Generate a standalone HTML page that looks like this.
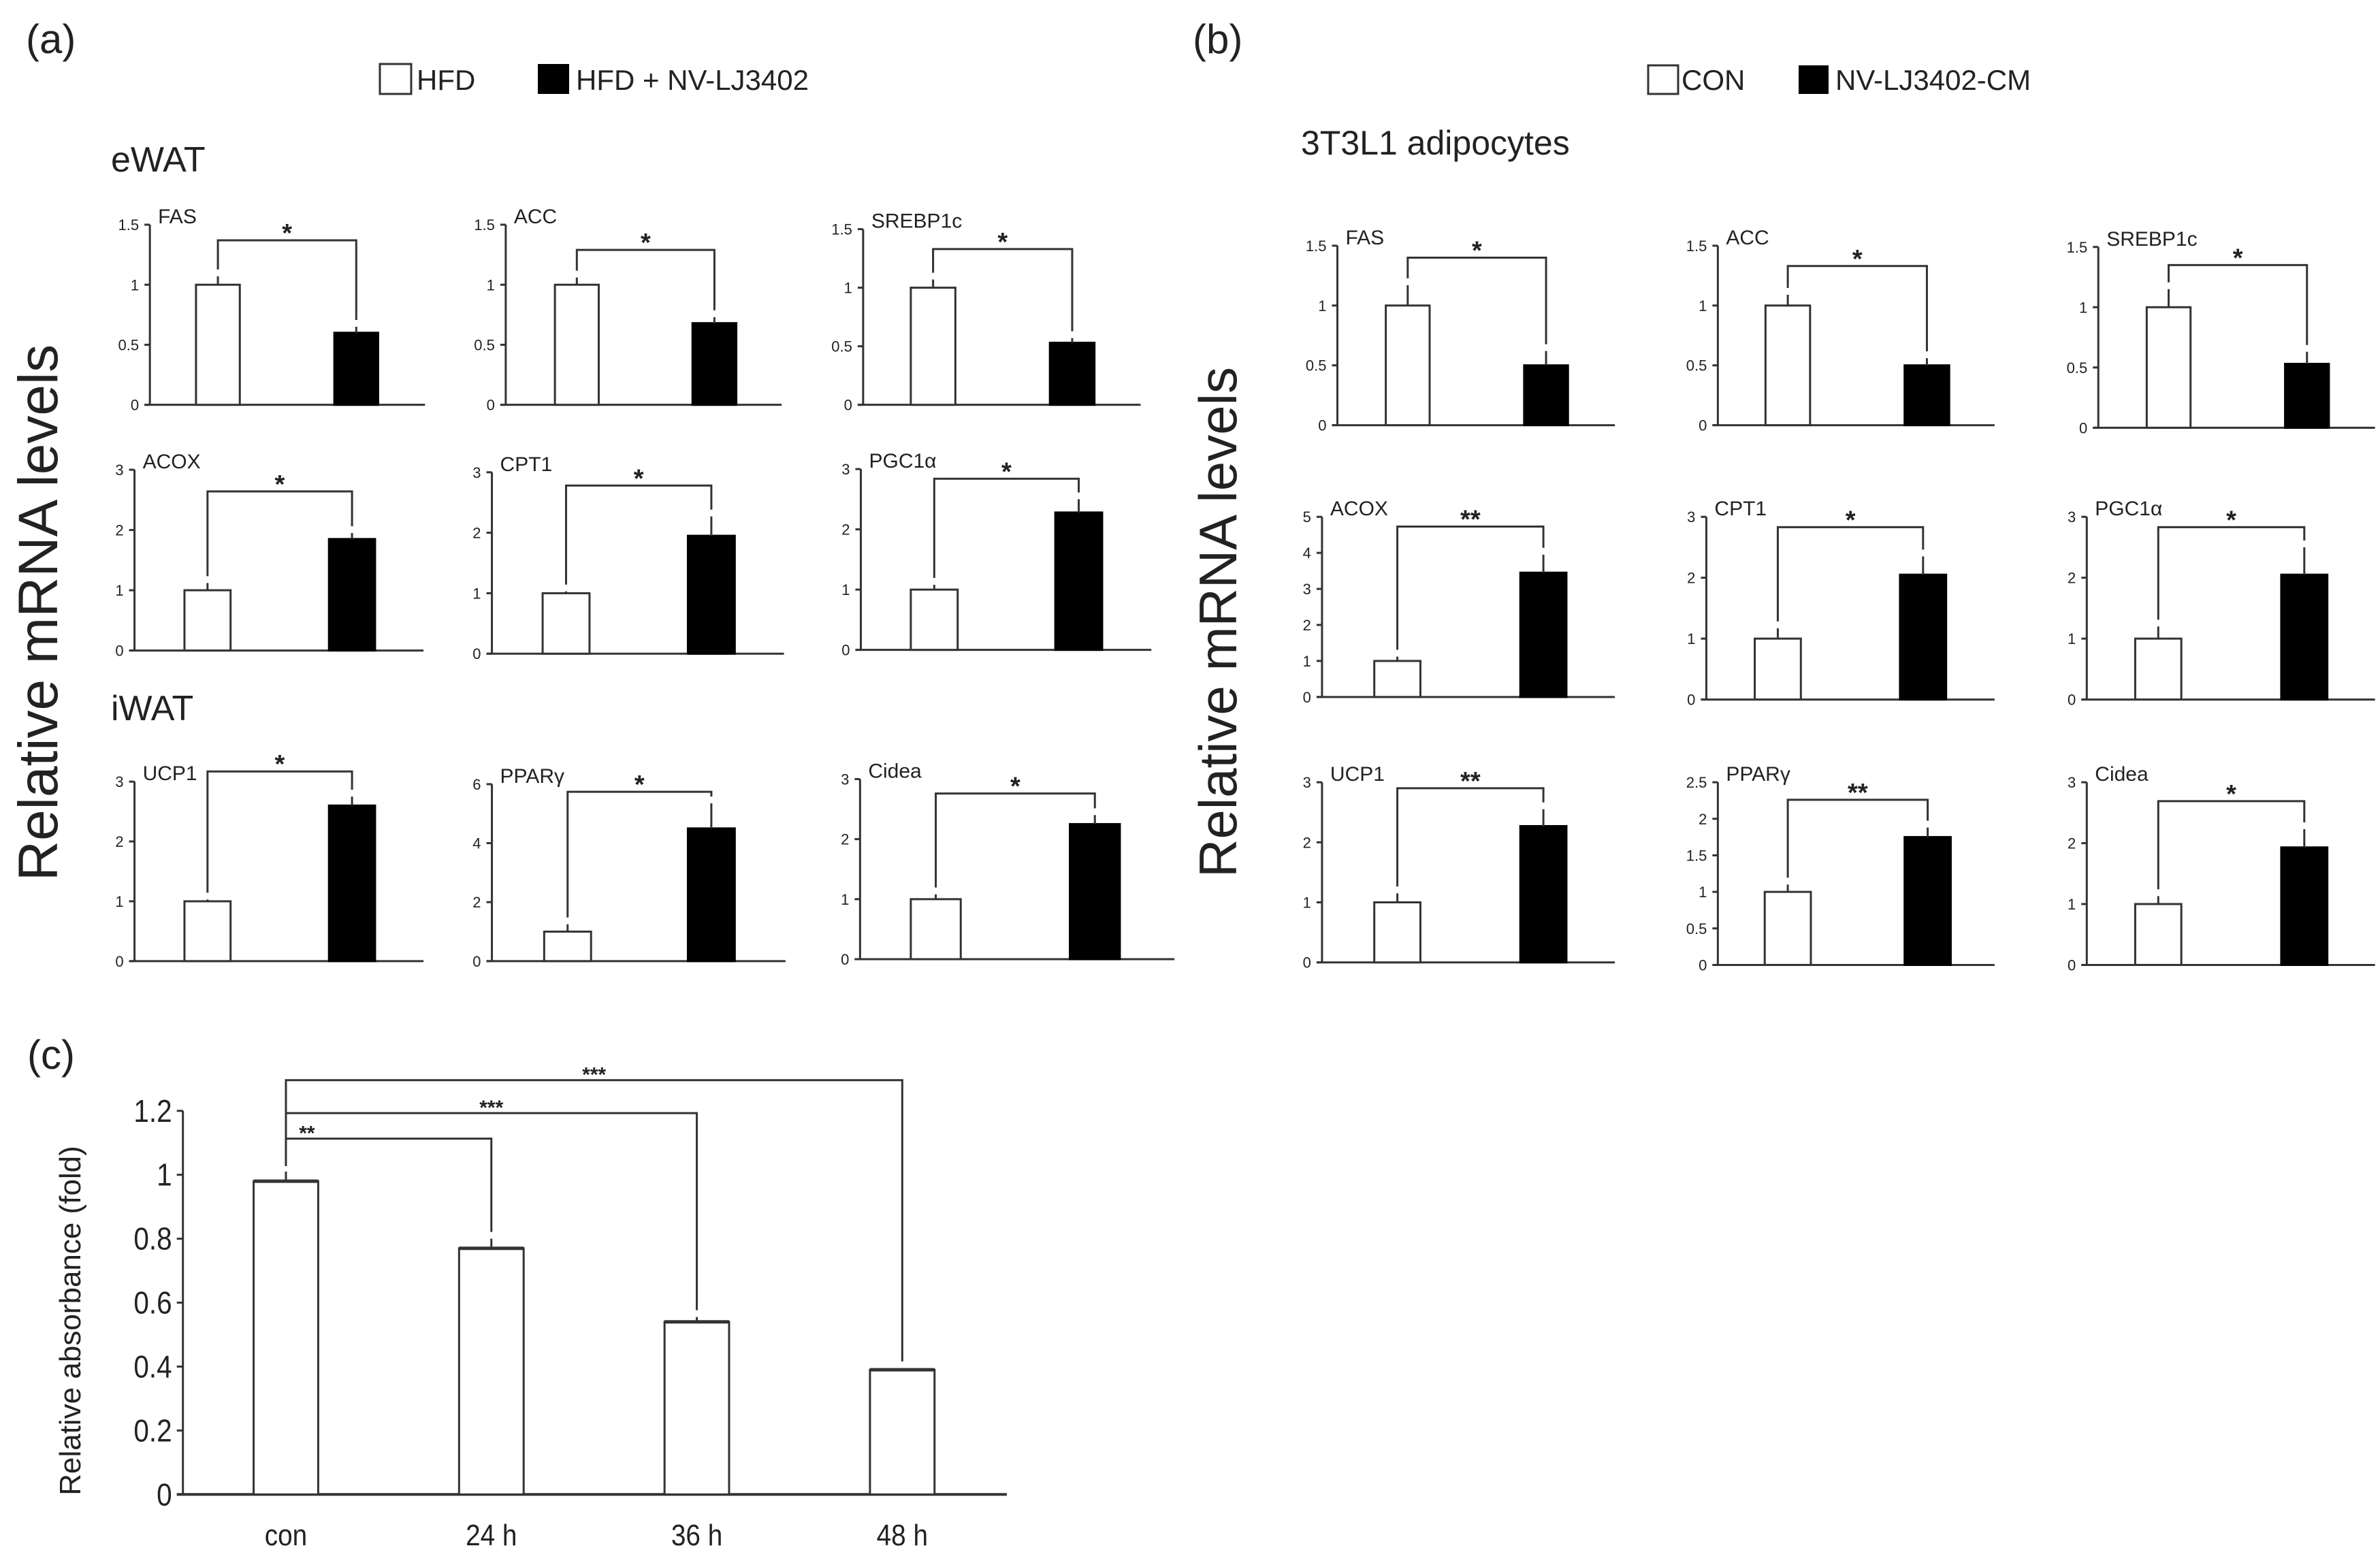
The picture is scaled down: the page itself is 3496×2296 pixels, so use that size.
<!DOCTYPE html>
<html><head><meta charset="utf-8"><style>
html,body{margin:0;padding:0;background:#fff;overflow:hidden}
svg{display:block}
text{font-family:"Liberation Sans",sans-serif;fill:#222}
</style></head><body>
<svg id="fig" width="3496" height="2296" viewBox="0 0 3496 2296" xmlns="http://www.w3.org/2000/svg">
<g id="pa">
<text x="38" y="78" font-size="60">(a)</text>
<rect x="558" y="94" width="46" height="44" fill="#fff" stroke="#333" stroke-width="3"/>
<text x="612" y="132" font-size="42">HFD</text>
<rect x="790" y="94" width="46" height="44" fill="#000"/>
<text x="846" y="132" font-size="42">HFD + NV-LJ3402</text>
<text x="163" y="252" font-size="52">eWAT</text>
<text x="163" y="1058" font-size="52">iWAT</text>
<text transform="translate(84,900) rotate(-90)" text-anchor="middle" font-size="82">Relative mRNA levels</text>
</g>
<g id="pb">
<text x="1752" y="78" font-size="60">(b)</text>
<rect x="2421" y="96" width="44" height="42" fill="#fff" stroke="#333" stroke-width="3"/>
<text x="2470" y="132" font-size="42">CON</text>
<rect x="2642" y="96" width="44" height="42" fill="#000"/>
<text x="2696" y="132" font-size="42">NV-LJ3402-CM</text>
<text x="1911" y="227" font-size="50">3T3L1 adipocytes</text>
<text transform="translate(1816,914) rotate(-90)" text-anchor="middle" font-size="78">Relative mRNA levels</text>
</g>
<g id="pc">
<text x="40" y="1570" font-size="60">(c)</text>
<text transform="translate(118,1940) rotate(-90)" text-anchor="middle" font-size="44">Relative absorbance (fold)</text>
</g>
</svg>
<script>
// ---------- panel (a) data ----------
const aGenes = ["FAS","ACC","SREBP1c","ACOX","CPT1","PGC1α","UCP1","PPARγ","Cidea"];
const aCtrl = [1,1,1,1,1,1,1,1,1];
const aTreat = [0.6,0.68,0.53,1.85,1.95,2.28,2.6,4.5,2.25];
const aCtrlErr = [0.07,0.06,0.07,0.12,0.03,0.08,0.03,0.25,0.08];
const aTreatErr = [0.05,0.05,0.04,0.1,0.32,0.22,0.15,0.85,0.15];
const aMax = [1.5,1.5,1.5,3,3,3,3,6,3];
const aStep = [0.5,0.5,0.5,1,1,1,1,2,1];
const aBracket = [1.37,1.29,1.33,2.64,2.78,2.84,3.17,5.74,2.76];
const aStars = ["*","*","*","*","*","*","*","*","*"];
// ---------- panel (b) data ----------
const bGenes = ["FAS","ACC","SREBP1c","ACOX","CPT1","PGC1α","UCP1","PPARγ","Cidea"];
const bCtrl = [1,1,1,1,1,1,1,1,1];
const bTreat = [0.5,0.5,0.53,3.45,2.05,2.05,2.27,1.75,1.93];
const bCtrlErr = [0.17,0.09,0.15,0.12,0.17,0.2,0.15,0.1,0.13];
const bTreatErr = [0.12,0.06,0.1,0.5,0.3,0.45,0.28,0.13,0.3];
const bMax = [1.5,1.5,1.5,5,3,3,3,2.5,3];
const bStep = [0.5,0.5,0.5,1,1,1,1,0.5,1];
const bBracket = [1.4,1.33,1.35,4.73,2.83,2.83,2.9,2.26,2.69];
const bStars = ["*","*","*","**","*","*","**","**","*"];
// ---------- panel (c) data ----------
const cCats = ["con","24 h","36 h","48 h"];
const cVals = [0.98,0.77,0.54,0.39];
const cErr = [0.03,0.03,0.015,0.005];
const cTicks = [0,0.2,0.4,0.6,0.8,1,1.2];
const cBrTo = [1,2,3];
const cBrY = [1.113,1.193,1.296];
const cBrStars = ["**","***","***"];

const NS="http://www.w3.org/2000/svg";
function mk(parent,tag,attrs,txt){const e=document.createElementNS(NS,tag);for(const k in attrs)e.setAttribute(k,attrs[k]);if(txt!==undefined)e.textContent=txt;parent.appendChild(e);return e;}

// layout geometry in reference-crop units: [axisX, axisEnd, topY, zeroY, ctrlBarX, treatBarX, barW]
const aLay=[[195,553,353,636,255,435,57],[658,1017,353,636,722,901,57],[1123,1484,360,636,1185,1366,58],
[175,551,738,1022,240,428,60],[640,1020,742,1027,706,895,61],[1120,1498,737,1021,1185,1373,61],
[175,551,1228,1510,240,428,60],[640,1022,1232,1510,708,895,61],[1119,1528,1224,1507,1185,1392,65]];
const bLay=[[190,551,386,668,253,433,57],[685,1045,386,668,747,928,58],[1180,1540,388,672,1243,1423,57],
[170,551,812,1095,238,428,60],[670,1045,812,1099,733,922,60],[1165,1540,812,1099,1228,1418,60],
[170,551,1229,1512,238,428,60],[685,1045,1229,1516,746,928,60],[1165,1540,1229,1516,1228,1418,60]];

function small(g,ox,lay,gene,c,t,ce,te,max,step,br,star,pfx){
  const SX=x=>ox+x*1.129, SY=y=>y*0.935;
  const x0=SX(lay[0]),x1=SX(lay[1]),yt=SY(lay[2]),y0=SY(lay[3]),wx=SX(lay[4]),bx=SX(lay[5]),bw=lay[6]*1.129;
  const sg=mk(g,'g',{});
  
  
  const Y=v=>y0-(v/max)*(y0-yt);
  const s='#333';
  mk(sg,'line',{x1:x0,y1:yt,x2:x0,y2:y0,stroke:s,'stroke-width':3});
  mk(sg,'line',{x1:x0-8,y1:y0,x2:x1,y2:y0,stroke:s,'stroke-width':3});
  for(let v=0;v<=max+1e-9;v+=step){
    const y=Y(v);
    mk(sg,'line',{x1:x0-8,y1:y,x2:x0,y2:y,stroke:s,'stroke-width':3});
    const tl=mk(sg,'text',{x:x0-16,y:y+8,'text-anchor':'end','font-size':22,fill:'#444'},String(+v.toFixed(2)));
    
    
  }
  const title=mk(sg,'text',{x:x0+12,y:yt-2,'font-size':30},gene);
  
  
  const wc=wx+bw/2, bc=bx+bw/2;
  const r1=mk(sg,'rect',{x:wx,y:Y(c),width:bw,height:y0-Y(c),fill:'#fff',stroke:s,'stroke-width':3});
  
  
  const r2=mk(sg,'rect',{x:bx,y:Y(t),width:bw,height:y0-Y(t),fill:'#000',stroke:'#000','stroke-width':3});
  
  
  mk(sg,'line',{x1:wc,y1:Y(c),x2:wc,y2:Y(c+ce),stroke:s,'stroke-width':3});
  mk(sg,'line',{x1:bc,y1:Y(t),x2:bc,y2:Y(t+te),stroke:s,'stroke-width':3});
  const by=Y(br);
  mk(sg,'polyline',{points:`${wc},${Y(c+ce)-10} ${wc},${by} ${bc},${by} ${bc},${Y(t+te)-10}`,fill:'none',stroke:s,'stroke-width':3});
  const st=mk(sg,'text',{x:(wc+bc)/2,y:by+2,'text-anchor':'middle','font-size':38,'font-weight':'bold'},star);
  
  
}
const pa=document.getElementById('pa'), pb=document.getElementById('pb'), pc=document.getElementById('pc');
for(let i=0;i<9;i++){
  small(pa,0,aLay[i],aGenes[i],aCtrl[i],aTreat[i],aCtrlErr[i],aTreatErr[i],aMax[i],aStep[i],aBracket[i],aStars[i],'a');
  small(pb,1750,bLay[i],bGenes[i],bCtrl[i],bTreat[i],bCtrlErr[i],bTreatErr[i],bMax[i],bStep[i],bBracket[i],bStars[i],'b');
}
// panel c
(function(){
  const SX=x=>x*1.129, SY=y=>1450+y*0.546;
  const x0=SX(238),x1=SX(1310),yt=SY(333),y0=SY(1365),max=1.2,bw=84*1.129,s='#333';
  const Y=v=>y0-(v/max)*(y0-yt);
  const X=i=>SX(372+i*267.3);
  mk(pc,'line',{x1:x0,y1:yt,x2:x0,y2:y0,stroke:s,'stroke-width':3});
  mk(pc,'line',{x1:x0-9,y1:y0,x2:x1,y2:y0,stroke:s,'stroke-width':4});
  cTicks.forEach(v=>{
    const y=Y(v);
    mk(pc,'line',{x1:x0-9,y1:y,x2:x0,y2:y,stroke:s,'stroke-width':3});
    const t=mk(pc,'text',{x:(x0-16)/0.88,y:y+16,'text-anchor':'end','font-size':46,transform:'scale(0.88,1)'},String(v));
    
    
  });
  cCats.forEach((c,i)=>{
    const cx=X(i);
    const r=mk(pc,'rect',{x:cx-bw/2,y:Y(cVals[i]),width:bw,height:y0-Y(cVals[i]),fill:'#fff',stroke:s,'stroke-width':3});
    
    
    mk(pc,'line',{x1:cx-bw/2,y1:Y(cVals[i]),x2:cx+bw/2,y2:Y(cVals[i]),stroke:s,'stroke-width':5});
    mk(pc,'line',{x1:cx,y1:Y(cVals[i]),x2:cx,y2:Y(cVals[i]+cErr[i]),stroke:s,'stroke-width':3});
    const t=mk(pc,'text',{x:cx/0.88,y:2270,'text-anchor':'middle','font-size':44,transform:'scale(0.88,1)'},c);
    
    
  });
  cBrTo.forEach((j,k)=>{
    const y=Y(cBrY[k]), xa=X(0), xb=X(j);
    mk(pc,'polyline',{points:`${xa},${Y(cVals[0]+cErr[0])-8} ${xa},${y} ${xb},${y} ${xb},${Y(cVals[j]+cErr[j])-10}`,fill:'none',stroke:s,'stroke-width':3});
    const st=mk(pc,'text',{x:(xa+xb)/2-120*(k===0?1:0),y:y+2,'text-anchor':'middle','font-size':30,'font-weight':'bold'},cBrStars[k]);
    
    
  });
})();
</script>
</body></html>
